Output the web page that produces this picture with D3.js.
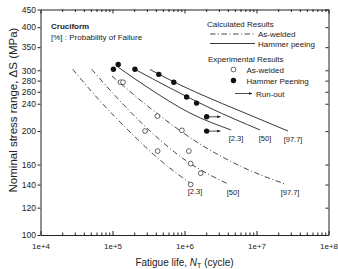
<!DOCTYPE html>
<html>
<head>
<meta charset="utf-8">
<script src="https://cdn.jsdelivr.net/npm/d3@7"></script>
<style>
  body { margin: 0; background: #fff; }
  svg { display: block; }
  text { font-family: Arial, "Liberation Sans", sans-serif; fill: #222; }
</style>
</head>
<body>
<div id="chart"></div>
<script>
// test data, [cycles, stress range MPa]
const asWelded = [[1.29e5, 277], [1.4e5, 277], [4.2e5, 221], [2.83e5, 200], [9.2e5, 201],
  [4.24e5, 175], [1.15e6, 175], [1.22e6, 161], [1.68e6, 151], [1.22e6, 140]];
const hammerPeened = [[1.03e5, 302], [1.2e5, 312], [2.05e5, 302], [4.4e5, 292], [7.1e5, 277],
  [1.07e6, 251], [1.47e6, 241]];
const runOut = [[2.03e6, 220], [2.03e6, 200]];

// calculated curves for 2.3 / 50 / 97.7 % probability of failure
const curveLabels = ["[2.3]", "[50]", "[97.7]"];
const weldedCurves = [
  [[2.8e4, 302], [6.7e4, 244.5], [1.75e5, 198.8], [4.57e5, 164.9], [1.19e6, 141.5]],
  [[5.14e4, 302], [1.27e5, 244.5], [3.32e5, 200.1], [1.02e6, 164.9], [4.02e6, 140.5]],
  [[9.84e4, 288.8], [3.32e5, 233.3], [1.64e6, 183.5], [5.9e6, 158.5], [2.49e7, 140.5]]
];
const peenedCurves = [
  [[1.19e5, 306.6], [3.32e5, 264.8], [1.19e6, 225.6], [4.43e6, 201.5]],
  [[2.05e5, 302], [6.29e5, 266.6], [2.26e6, 233.3], [1.12e7, 201.5]],
  [[3.32e5, 301.6], [7.15e5, 277.5], [1.64e6, 256.1], [6.92e6, 225.6], [2.74e7, 200.1]]
];

const xTicks = [1e4, 1e5, 1e6, 1e7, 1e8];
const xTickLabels = ["1e+4", "1e+5", "1e+6", "1e+7", "1e+8"];
const yTicks = [100, 120, 140, 160, 200, 240, 260, 280, 300, 350, 400, 450];

const w = 338, h = 269;
const m = { left: 40.5, right: 328.5, top: 9.5, bottom: 235 };
const dashDot = "5.5,2.5,1,2.5";

let svg = d3.select("#chart").append("svg")
  .attr("width", w)
  .attr("height", h);

let x = d3.scaleLog().domain([1e4, 1e8]).range([m.left, m.right]);
let y = d3.scaleLog().domain([100, 450]).range([m.bottom, m.top]);

let minorX = [];
for (let e = 4; e < 8; e++) {
  for (let k = 2; k < 10; k++) minorX.push(k * Math.pow(10, e));
}

// axes
let xAxisB = svg.append("g").attr("transform", `translate(0,${m.bottom})`)
  .call(d3.axisBottom(x).tickValues(xTicks).tickSize(-4).tickSizeOuter(0).tickPadding(8)
    .tickFormat((d, i) => xTickLabels[i]));
xAxisB.append("g").call(d3.axisBottom(x).tickValues(minorX).tickSize(-2.5).tickFormat(""))
  .select(".domain").remove();
xAxisB.selectAll("text").attr("font-size", 8).attr("fill", "#222");

let xAxisT = svg.append("g").attr("transform", `translate(0,${m.top})`)
  .call(d3.axisTop(x).tickValues(xTicks).tickSize(-4).tickSizeOuter(0).tickFormat(""));
xAxisT.append("g").call(d3.axisTop(x).tickValues(minorX).tickSize(-2.5).tickFormat(""))
  .select(".domain").remove();

let yAxisL = svg.append("g").attr("transform", `translate(${m.left},0)`)
  .call(d3.axisLeft(y).tickValues(yTicks).tickSize(3).tickSizeOuter(0).tickPadding(1.5)
    .tickFormat(d3.format("d")));
yAxisL.selectAll("text").attr("font-size", 8.5).attr("fill", "#222");

svg.append("g").attr("transform", `translate(${m.right},0)`)
  .call(d3.axisRight(y).tickValues(yTicks).tickSize(-3).tickSizeOuter(0).tickFormat(""));

svg.selectAll(".domain").attr("stroke", "#222");
svg.selectAll(".tick line").attr("stroke", "#222");

// axis titles
svg.append("text")
  .attr("x", (m.left + m.right) / 2)
  .attr("y", 266)
  .attr("text-anchor", "middle")
  .attr("font-size", 10)
  .html('Fatigue life, <tspan font-style="italic">N</tspan><tspan font-size="7" dy="2">T</tspan><tspan dy="-2"> (cycle)</tspan>');

svg.append("text")
  .attr("transform", "translate(16.5,110) rotate(-90)")
  .attr("text-anchor", "middle")
  .attr("font-size", 11.5)
  .text("Nominal stress range, \u0394S (MPa)");

// curves
let line = d3.line()
  .x(d => x(d[0]))
  .y(d => y(d[1]))
  .curve(d3.curveMonotoneX);

let plot = svg.append("g");

plot.selectAll("path.welded")
  .data(weldedCurves)
  .join("path")
  .attr("class", "welded")
  .attr("d", line)
  .attr("fill", "none")
  .attr("stroke", "#333")
  .attr("stroke-width", 0.9)
  .attr("stroke-dasharray", dashDot);

plot.selectAll("path.peened")
  .data(peenedCurves)
  .join("path")
  .attr("class", "peened")
  .attr("d", line)
  .attr("fill", "none")
  .attr("stroke", "#222")
  .attr("stroke-width", 0.9);

// probability labels at curve ends
plot.selectAll("text.lab")
  .data(weldedCurves.concat(peenedCurves))
  .join("text")
  .attr("class", "lab")
  .attr("x", d => x(d[d.length - 1][0]) + 5)
  .attr("y", d => y(d[d.length - 1][1]) + 11)
  .attr("text-anchor", "middle")
  .attr("font-size", 7.5)
  .text((d, i) => curveLabels[i % 3]);

// run-out arrows
svg.append("defs").append("marker")
  .attr("id", "arrow")
  .attr("viewBox", "0 0 10 10")
  .attr("refX", 9).attr("refY", 5)
  .attr("markerWidth", 4.5).attr("markerHeight", 4.5)
  .attr("orient", "auto")
  .append("path")
  .attr("d", "M0,1L10,5L0,9Z")
  .attr("fill", "#222");

plot.selectAll("line.run")
  .data(runOut)
  .join("line")
  .attr("class", "run")
  .attr("x1", d => x(d[0]))
  .attr("x2", d => x(d[0] * 1.55))
  .attr("y1", d => y(d[1]))
  .attr("y2", d => y(d[1]))
  .attr("stroke", "#222")
  .attr("stroke-width", 0.8)
  .attr("marker-end", "url(#arrow)");

// points
plot.selectAll("circle.aw")
  .data(asWelded)
  .join("circle")
  .attr("class", "aw")
  .attr("cx", d => x(d[0]))
  .attr("cy", d => y(d[1]))
  .attr("r", 2.4)
  .attr("fill", "#fff")
  .attr("stroke", "#222")
  .attr("stroke-width", 0.7);

plot.selectAll("circle.hp")
  .data(hammerPeened.concat(runOut))
  .join("circle")
  .attr("class", "hp")
  .attr("cx", d => x(d[0]))
  .attr("cy", d => y(d[1]))
  .attr("r", 2.7)
  .attr("fill", "#111");

// notes
svg.append("text")
  .attr("x", 51).attr("y", 29)
  .attr("font-size", 8)
  .attr("font-weight", "bold")
  .text("Cruciform");
svg.append("text")
  .attr("x", 51).attr("y", 40)
  .attr("font-size", 8)
  .text("[%] : Probability of Failure");

// legend
let legend = svg.append("g").attr("font-size", 8);
legend.append("text").attr("x", 207).attr("y", 27).text("Calculated Results");
legend.append("line").attr("x1", 210).attr("x2", 254).attr("y1", 34).attr("y2", 34)
  .attr("stroke", "#333").attr("stroke-width", 0.9).attr("stroke-dasharray", dashDot);
legend.append("text").attr("x", 258).attr("y", 37).text("As-welded");
legend.append("line").attr("x1", 210).attr("x2", 255).attr("y1", 43.5).attr("y2", 43.5)
  .attr("stroke", "#222").attr("stroke-width", 0.9);
legend.append("text").attr("x", 258).attr("y", 46.5).text("Hammer peeing");

legend.append("text").attr("x", 208).attr("y", 62).text("Experimental Results");
legend.append("circle").attr("cx", 233.5).attr("cy", 69.5).attr("r", 2.4)
  .attr("fill", "#fff").attr("stroke", "#222").attr("stroke-width", 0.7);
legend.append("text").attr("x", 246.5).attr("y", 72.5).text("As-welded");
legend.append("circle").attr("cx", 233.5).attr("cy", 80.5).attr("r", 2.7).attr("fill", "#111");
legend.append("text").attr("x", 246.5).attr("y", 83.5).text("Hammer Peening");
legend.append("line").attr("x1", 235).attr("x2", 252).attr("y1", 93.5).attr("y2", 93.5)
  .attr("stroke", "#222").attr("stroke-width", 0.8).attr("marker-end", "url(#arrow)");
legend.append("text").attr("x", 256).attr("y", 96.5).text("Run-out");
</script>
</body>
</html>
